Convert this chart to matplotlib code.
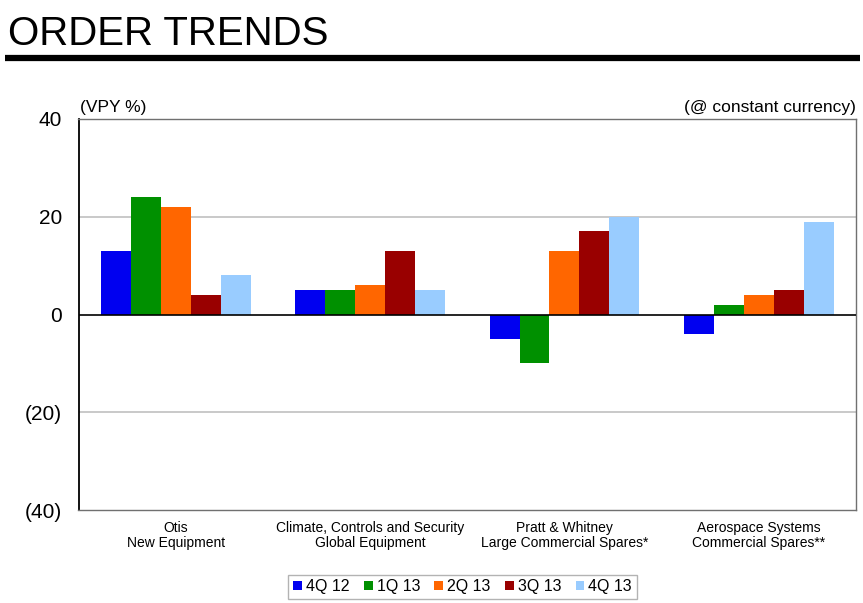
import matplotlib
matplotlib.use("Agg")
import matplotlib.pyplot as plt
import numpy as np

plt.rcParams["font.family"] = ["Liberation Sans", "DejaVu Sans"]

categories = [
    "Otis\nNew Equipment",
    "Climate, Controls and Security\nGlobal Equipment",
    "Pratt & Whitney\nLarge Commercial Spares*",
    "Aerospace Systems\nCommercial Spares**",
]
quarters = ["4Q 12", "1Q 13", "2Q 13", "3Q 13", "4Q 13"]
q4_12 = [13, 5, -5, -4]
q1_13 = [24, 5, -10, 2]
q2_13 = [22, 6, 13, 4]
q3_13 = [4, 13, 17, 5]
q4_13 = [8, 5, 20, 19]
colors = ["#0000F0", "#009000", "#FF6600", "#990000", "#99CCFF"]

yticks = [-40, -20, 0, 20, 40]
yticklabels = ["(40)", "(20)", "0", "20", "40"]

fig = plt.figure(figsize=(8.63, 6.03), dpi=100)
ax = fig.add_axes([78.5 / 863, 1 - 510 / 603, (856 - 78.5) / 863, (510 - 119) / 603])

series = [q4_12, q1_13, q2_13, q3_13, q4_13]
x = np.arange(len(categories))
width = 0.154
for i, (vals, col, lab) in enumerate(zip(series, colors, quarters)):
    ax.bar(x + (i - 2) * width, vals, width, color=col, label=lab, zorder=3)

ax.set_xlim(-0.5, len(categories) - 0.5)
ax.set_ylim(-40, 40)
ax.set_yticks(yticks)
ax.set_yticklabels(yticklabels, fontsize=15)
ax.set_xticks(x)
ax.set_xticklabels(categories, fontsize=10, linespacing=1.1)
ax.tick_params(length=0)
ax.tick_params(axis="y", pad=12)
ax.tick_params(axis="x", pad=8)

for v in (20, -20):
    ax.axhline(v, color="#C0C0C0", lw=1.2, zorder=1)
ax.axhline(0, color="black", lw=1.2, zorder=4)

for side in ("top", "right", "bottom"):
    ax.spines[side].set_color("#707070")
    ax.spines[side].set_linewidth(1.0)
ax.spines["left"].set_color("black")
ax.spines["left"].set_linewidth(1.3)

ax.text(0.002, 1.01, "(VPY %)", transform=ax.transAxes, fontsize=12.5, ha="left", va="bottom")
ax.text(1.0, 1.01, "(@ constant currency)", transform=ax.transAxes, fontsize=12.5,
        ha="right", va="bottom")

leg = ax.legend(loc="upper center", bbox_to_anchor=(0.494, -0.165), ncol=5, fontsize=11.5,
                frameon=True, fancybox=False, edgecolor="#A0A0A0", handlelength=0.55,
                handleheight=0.55, handletextpad=0.25, columnspacing=0.9,
                borderpad=0.3, borderaxespad=0)
leg.get_frame().set_linewidth(1.0)

fig.text(8 / 863, 1 - 45 / 603, "ORDER TRENDS", fontsize=29, ha="left", va="baseline")
fig.add_artist(plt.Line2D([5 / 863, 860 / 863], [1 - 58 / 603, 1 - 58 / 603],
                          color="black", lw=4.5, solid_capstyle="butt",
                          transform=fig.transFigure))

fig.savefig("out.png", dpi=100)
